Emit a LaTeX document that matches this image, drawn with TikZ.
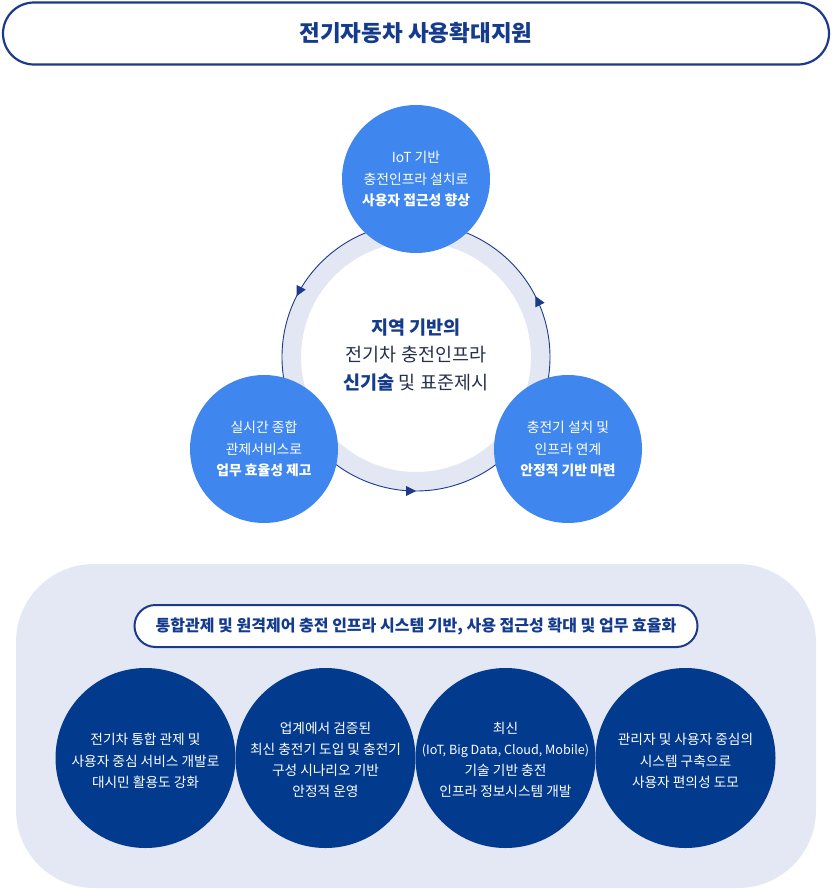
\documentclass[tikz,border=0pt]{standalone}
\usepackage{fontspec}
\setmainfont{Noto Sans CJK KR}
\usetikzlibrary{arrows.meta,decorations.markings}
\definecolor{navyline}{HTML}{1B3A8C}
\definecolor{navytext}{HTML}{143B8C}
\definecolor{skyblue}{HTML}{3F87EF}
\definecolor{deepnavy}{HTML}{023A8E}
\definecolor{ringcol}{HTML}{E3E7F3}
\definecolor{panelcol}{HTML}{E4E8F4}
\definecolor{graytext}{HTML}{27314D}
\begin{document}
\begin{tikzpicture}[x=1pt,y=1pt,
  titlebox/.style={draw=navyline, line width=2.2pt, fill=white, rounded corners=31pt,
    minimum width=826pt, minimum height=62pt, inner sep=0pt,
    font=\fontsize{22.5}{26}\selectfont\bfseries, text=navytext},
  pillbox/.style={draw=navyline, line width=2pt, fill=white, rounded corners=21pt,
    minimum width=563pt, minimum height=42pt, inner sep=0pt,
    font=\fontsize{16}{19}\selectfont\bfseries, text=navytext},
  bluecircle/.style={circle, fill=skyblue, minimum size=148pt, inner sep=0pt},
  navycircle/.style={circle, fill=deepnavy, minimum size=180pt, inner sep=0pt},
  bluetext/.style={text=white, align=center, inner sep=0pt, font=\fontsize{13.8}{21.5}\selectfont},
  navytextstyle/.style={text=white, align=center, inner sep=0pt, font=\fontsize{13.7}{21.2}\selectfont},
  centertext/.style={align=center, text=graytext, font=\fontsize{18.5}{27.5}\selectfont},
  ringline/.style={draw=navyline, line width=0.9pt},
  tipmark/.style={decoration={markings,
    mark=at position 0.075 with {\arrow{Triangle[length=10pt,width=10pt]}},
    mark=at position 0.425 with {\arrow{Triangle[length=10pt,width=10pt]}},
    mark=at position 0.75 with {\arrow{Triangle[length=10pt,width=10pt]}}},
    postaction={decorate}}
]
\useasboundingbox (0,0) rectangle (832,-889);
\fill[white] (0,0) rectangle (832,-889);

% title
\node[titlebox] (title) at (416,-33.5) {전기자동차 사용확대지원};

% ring
\coordinate (ringc) at (416,-357);
\draw[ringcol, line width=19pt] (ringc) circle (124.5);
\draw[ringline, fill=none, navyline, tipmark] (ringc) circle (134);

% center text
\node[centertext] (center) at (416,-355) {{\bfseries\color{navytext}지역 기반의}\\전기차 충전인프라\\{\bfseries\color{navytext}신기술} 및 표준제시};

% blue circles
\node[bluecircle] (topc) at (416,-179) {};
\node[bluecircle] (leftc) at (264,-449) {};
\node[bluecircle] (rightc) at (568,-449) {};
\node[bluetext] (topt) at (topc.center) {IoT 기반\\충전인프라 설치로\\\textbf{사용자 접근성 향상}};
\node[bluetext] (leftt) at (leftc.center) {실시간 종합\\관제서비스로\\\textbf{업무 효율성 제고}};
\node[bluetext] (rightt) at (rightc.center) {충전기 설치 및\\인프라 연계\\\textbf{안정적 기반 마련}};

% bottom panel
\fill[panelcol, rounded corners=78pt] (16,-564) rectangle (816,-888);
\node[pillbox] (pill) at (416,-626) {통합관제 및 원격제어 충전 인프라 시스템 기반, 사용 접근성 확대 및 업무 효율화};

\node[navycircle] (b1) at (145.5,-758) {};
\node[navycircle] (b2) at (325.5,-758) {};
\node[navycircle] (b3) at (505.5,-758) {};
\node[navycircle] (b4) at (685.5,-758) {};
\node[navytextstyle] (t1) at ([yshift=-3pt]b1.center) {전기차 통합 관제 및\\사용자 중심 서비스 개발로\\대시민 활용도 강화};
\node[navytextstyle] (t2) at ([yshift=-2pt]b2.center) {업계에서 검증된\\최신 충전기 도입 및 충전기\\구성 시나리오 기반\\안정적 운영};
\node[navytextstyle] (t3) at ([yshift=-2pt]b3.center) {최신\\{\fontsize{12.6}{21.2}\selectfont(IoT, Big Data, Cloud, Mobile)}\\기술 기반 충전\\인프라 정보시스템 개발};
\node[navytextstyle] (t4) at ([yshift=-3pt]b4.center) {관리자 및 사용자 중심의\\시스템 구축으로\\사용자 편의성 도모};
\end{tikzpicture}
\end{document}
